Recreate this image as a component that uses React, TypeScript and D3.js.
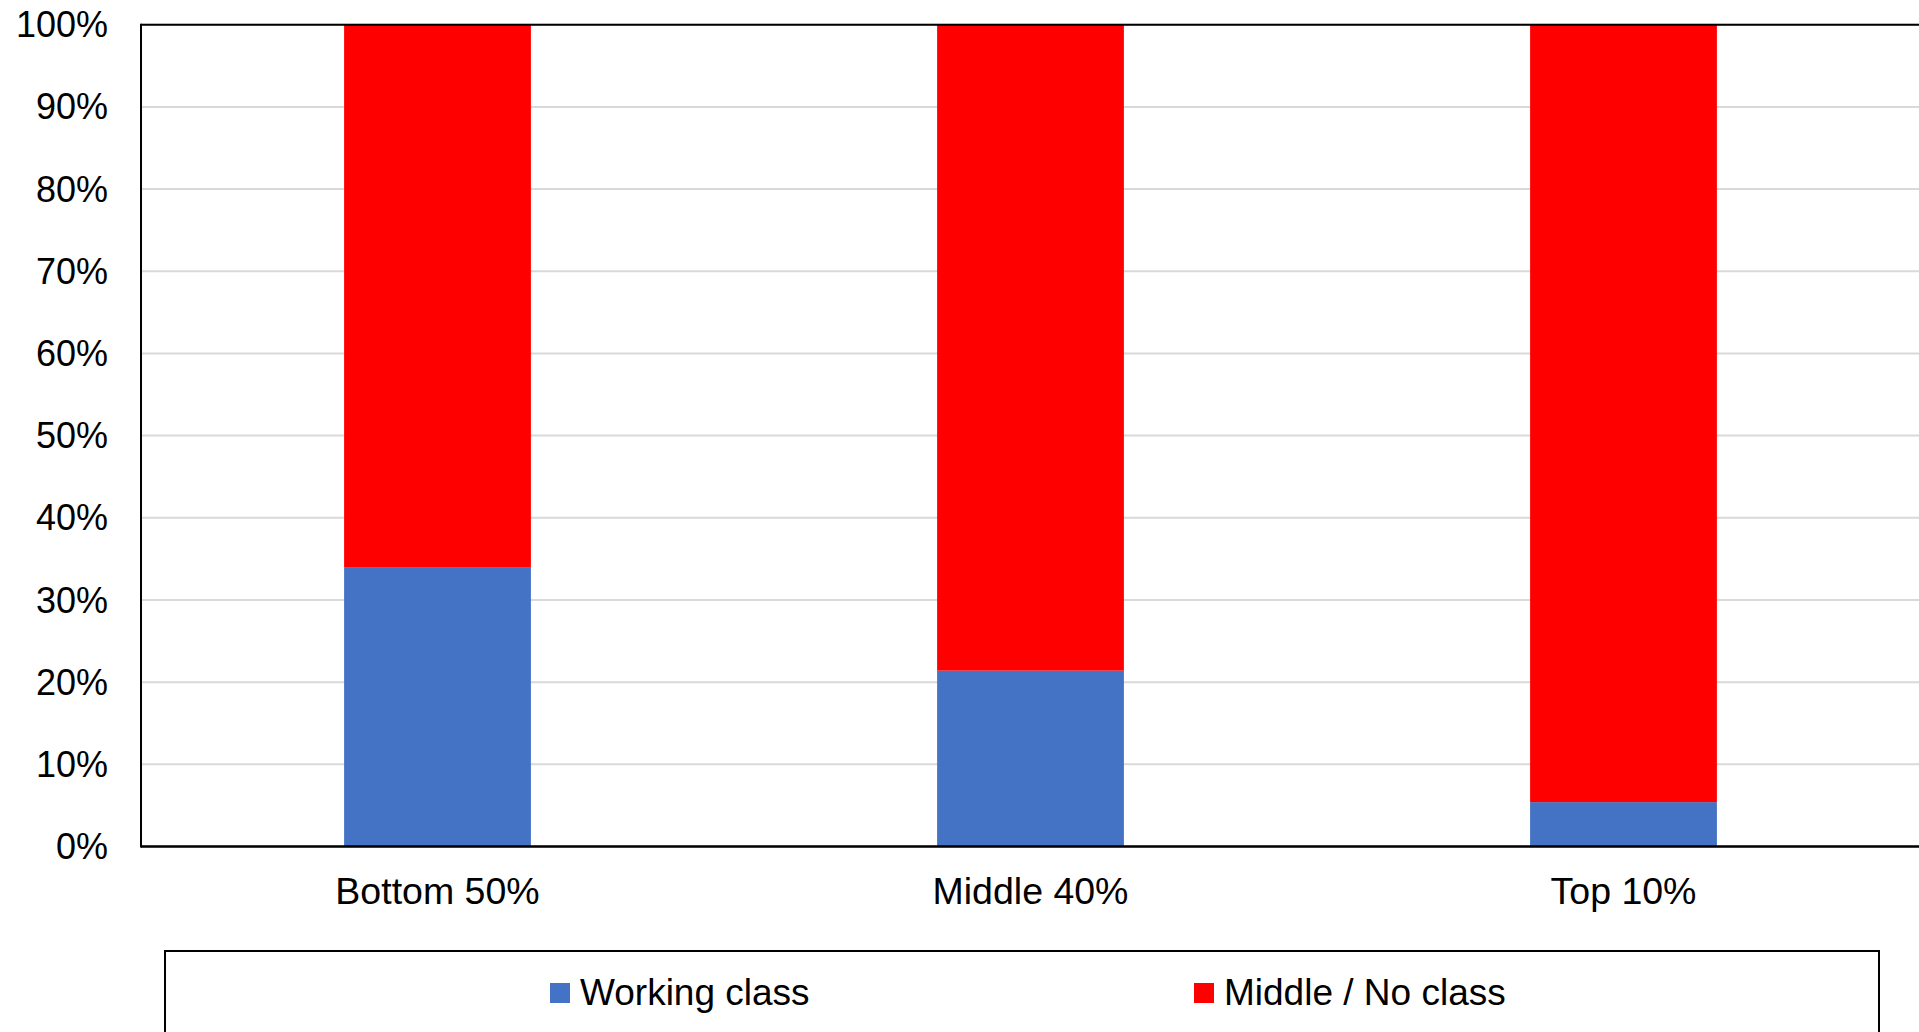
import React from "react";
import * as d3 from "d3";

const categories = ["Bottom 50%", "Middle 40%", "Top 10%"];
const workingClass = [34.0, 21.4, 5.4];
const middleNoClass = [66.0, 78.6, 94.6];
const seriesNames = ["Working class", "Middle / No class"];
const seriesColors = ["#4472C4", "#FF0000"];
const yTicks = [0, 10, 20, 30, 40, 50, 60, 70, 80, 90, 100];

const W = 1919;
const H = 1032;
const plot = { left: 141, top: 24.7, right: 1920, bottom: 846.5 };
const FONT = "'Liberation Sans', Arial, sans-serif";

export default function App() {
  const x = d3
    .scaleBand<string>()
    .domain(categories)
    .range([plot.left, plot.right])
    .paddingInner(0.685)
    .paddingOuter(0.3425);
  const y = d3.scaleLinear().domain([0, 100]).range([plot.bottom, plot.top]);

  const rows = categories.map((c, i) => ({
    cat: c,
    working: workingClass[i],
    middle: middleNoClass[i],
  }));
  const stack = d3.stack<any>().keys(["working", "middle"]);
  const stacked = stack(rows);

  return (
    <svg
      width={W}
      height={H}
      style={{ position: "absolute", left: 0, top: 0, display: "block", background: "#fff" }}
      fontFamily={FONT}
    >
      {yTicks.map((t) => (
        <line
          key={"g" + t}
          x1={plot.left}
          x2={plot.right}
          y1={y(t)}
          y2={y(t)}
          stroke="#d9d9d9"
          strokeWidth={2}
        />
      ))}
      {stacked.map((s, si) =>
        s.map((d, i) => (
          <rect
            key={si + "-" + i}
            x={x(categories[i])}
            width={x.bandwidth()}
            y={y(d[1])}
            height={y(d[0]) - y(d[1])}
            fill={seriesColors[si]}
          />
        ))
      )}
      {/* frame */}
      <line x1={plot.left} x2={plot.right} y1={plot.top} y2={plot.top} stroke="#000" strokeWidth={2} />
      <line x1={plot.left} x2={plot.left} y1={plot.top - 1} y2={plot.bottom + 1} stroke="#000" strokeWidth={2} />
      <line x1={plot.left} x2={plot.right} y1={plot.bottom} y2={plot.bottom} stroke="#000" strokeWidth={2.5} />
      {yTicks.map((t) => (
        <text
          key={"t" + t}
          x={108}
          y={y(t)}
          dy="0.35em"
          textAnchor="end"
          fontSize={36}
          fill="#000"
        >
          {t + "%"}
        </text>
      ))}
      {categories.map((c) => (
        <text
          key={c}
          x={(x(c) as number) + x.bandwidth() / 2}
          y={904}
          textAnchor="middle"
          fontSize={37.5}
          fill="#000"
        >
          {c}
        </text>
      ))}
      {/* legend */}
      <rect x={165} y={951} width={1714} height={120} fill="#fff" stroke="#000" strokeWidth={2} />
      {seriesNames.map((n, i) => {
        const lx = [550, 1194][i];
        return (
          <g key={n}>
            <rect x={lx} y={983} width={20} height={20} fill={seriesColors[i]} />
            <text x={lx + 30} y={1005} fontSize={37} fill="#000">
              {n}
            </text>
          </g>
        );
      })}
    </svg>
  );
}
